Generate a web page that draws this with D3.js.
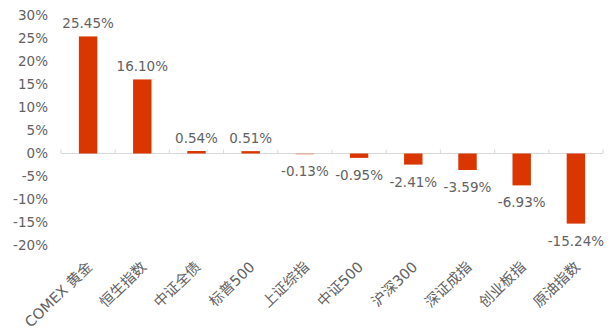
<!DOCTYPE html>
<html>
<head>
  <meta charset="utf-8">
  <title>资产收益率对比</title>
  <script src="https://d3js.org/d3.v7.min.js"></script>
  <style>
    body {
      margin: 0;
      background-color: #fff;
    }
    #chart text {
      font-family: "DejaVu Sans", "Noto Sans CJK SC", sans-serif;
      fill: #626262;
    }
  </style>
</head>
<body>
  <div id="chart"></div>

  <script>
    // data
    const categories = ["COMEX 黄金", "恒生指数", "中证全债", "标普500", "上证综指",
                        "中证500", "沪深300", "深证成指", "创业板指", "原油指数"];
    const returns = [25.45, 16.10, 0.54, 0.51, -0.13, -0.95, -2.41, -3.59, -6.93, -15.24];
    const yTicks = [30, 25, 20, 15, 10, 5, 0, -5, -10, -15, -20];

    const width = 612;
    const height = 336;
    const barColor = "#d93600";

    const svg = d3.select("#chart")
      .append("svg")
      .attr("width", width)
      .attr("height", height);

    const x = d3.scaleBand()
      .domain(categories)
      .range([61, 603])
      .paddingInner(0.66)
      .paddingOuter(0.33);

    const y = d3.scaleLinear()
      .domain([-20, 30])
      .range([245.5, 15.5]);

    // y axis labels only, no line
    svg.append("g")
      .selectAll("text")
      .data(yTicks)
      .enter()
      .append("text")
      .attr("x", 48)
      .attr("y", d => y(d))
      .attr("dy", "0.36em")
      .attr("text-anchor", "end")
      .style("font-size", "13.5px")
      .text(d => d + "%");

    // category axis line + tick marks at band edges (under the bars)
    const step = x.step();
    const edges = d3.range(categories.length + 1).map(i => 61 + i * step);
    svg.append("line")
      .attr("x1", 61)
      .attr("x2", 603)
      .attr("y1", y(0))
      .attr("y2", y(0))
      .attr("stroke", "#d9d9d9")
      .attr("stroke-width", 1.2);
    svg.append("g")
      .selectAll("line")
      .data(edges)
      .enter()
      .append("line")
      .attr("x1", d => d)
      .attr("x2", d => d)
      .attr("y1", y(0) - 4)
      .attr("y2", y(0))
      .attr("stroke", "#d9d9d9")
      .attr("stroke-width", 1);

    // bars
    svg.append("g")
      .selectAll("rect")
      .data(returns)
      .enter()
      .append("rect")
      .attr("x", (d, i) => x(categories[i]))
      .attr("y", d => y(Math.max(0, d)))
      .attr("width", x.bandwidth())
      .attr("height", d => Math.max(1, Math.abs(y(d) - y(0))))
      .attr("fill", barColor)
      .attr("fill-opacity", d => Math.abs(d) < 0.3 ? 0.45 : 1);

    // value labels
    svg.append("g")
      .selectAll("text")
      .data(returns)
      .enter()
      .append("text")
      .attr("x", (d, i) => x(categories[i]) + x.bandwidth() / 2)
      .attr("y", d => d >= 0 ? y(d) - 8 : y(d) + 22)
      .attr("text-anchor", "middle")
      .style("font-size", "13.5px")
      .text(d => d.toFixed(2) + "%");

    // rotated category labels
    svg.append("g")
      .selectAll("text")
      .data(categories)
      .enter()
      .append("text")
      .attr("transform", d => `translate(${x(d) + x.bandwidth() / 2 + 5},268) rotate(-44)`)
      .attr("text-anchor", "end")
      .style("font-size", "14.5px")
      .text(d => d);
  </script>
</body>
</html>
